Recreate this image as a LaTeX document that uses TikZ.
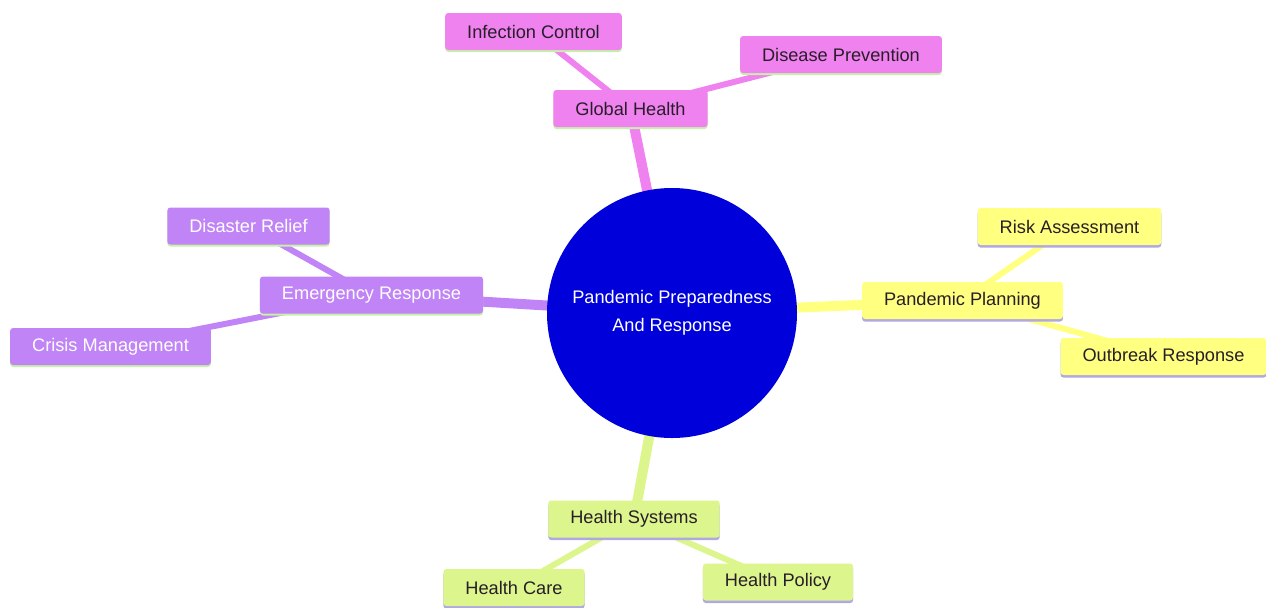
\documentclass[tikz,border=0pt]{standalone}
\usepackage{fontspec}
\setmainfont{Liberation Sans}
\usetikzlibrary{backgrounds,shadows}

\definecolor{pinkbranch}{RGB}{240,130,240}
\definecolor{purplebranch}{RGB}{192,132,246}
\definecolor{yellowbranch}{RGB}{255,255,128}
\definecolor{greenbranch}{RGB}{220,245,140}
\definecolor{corecolor}{RGB}{0,0,218}
\definecolor{greenshadow}{RGB}{200,240,170}
\definecolor{lavendershadow}{RGB}{176,168,226}
\definecolor{darktext}{RGB}{40,30,40}

\tikzset{every picture/.style={line width=0.75pt}}

\begin{document}
\begin{tikzpicture}[x=0.5pt, y=-0.5pt,
                    line join=round,
                    topic/.style={rounded corners=1.5pt, inner xsep=11pt,
                                  minimum height=18.5pt, text=darktext},
                    pinkbox/.style={topic, fill=pinkbranch,
                                    drop shadow={shadow xshift=0pt, shadow yshift=-1pt, fill=greenshadow, opacity=1}},
                    purplebox/.style={topic, fill=purplebranch, text=white,
                                      drop shadow={shadow xshift=0pt, shadow yshift=-1pt, fill=greenshadow, opacity=1}},
                    yellowbox/.style={topic, fill=yellowbranch,
                                      drop shadow={shadow xshift=0pt, shadow yshift=-1.3pt, fill=lavendershadow, opacity=1}},
                    greenbox/.style={topic, fill=greenbranch,
                                     drop shadow={shadow xshift=0pt, shadow yshift=-1.3pt, fill=lavendershadow, opacity=1}},
                    trunk/.style={line width=5pt},
                    twig/.style={line width=3pt}]
  \fontsize{9.1}{12.5}\selectfont
  \useasboundingbox (0,0) rectangle (1266,607);

  % centre
  \node[circle, fill=corecolor, minimum size=125pt, text=white, align=center,
        font=\fontsize{9.1}{14}\selectfont]
    (core) at (672,313) {Pandemic Preparedness\\And Response};

  % global health
  \node[pinkbox] (global) at (630.5,108.5) {Global Health};
  \node[pinkbox] (infection) at (533.5,31.5) {Infection Control};
  \node[pinkbox] (prevention) at (841,54.5) {Disease Prevention};

  % emergency response
  \node[purplebox] (emergency) at (371.5,295) {Emergency Response};
  \node[purplebox] (relief) at (248.5,226) {Disaster Relief};
  \node[purplebox] (crisis) at (110.5,346.5) {Crisis Management};

  % pandemic planning
  \node[yellowbox] (planning) at (962.5,300.5) {Pandemic Planning};
  \node[yellowbox] (risk) at (1069.5,226.5) {Risk Assessment};
  \node[yellowbox] (outbreak) at (1163.5,356.5) {Outbreak Response};

  % health systems
  \node[greenbox] (systems) at (634,519) {Health Systems};
  \node[greenbox] (care) at (514,587.5) {Health Care};
  \node[greenbox] (policy) at (778,582) {Health Policy};

  % branches
  \begin{scope}[on background layer]
    \draw[trunk, pinkbranch] (core.center) -- (global.center);
    \draw[twig, pinkbranch] (global.center) -- (infection.center);
    \draw[twig, pinkbranch] (global.center) -- (prevention.center);

    \draw[trunk, purplebranch] (core.center) -- (emergency.center);
    \draw[twig, purplebranch] (emergency.center) -- (relief.center);
    \draw[twig, purplebranch] (emergency.center) -- (crisis.center);

    \draw[trunk, yellowbranch] (core.center) -- (planning.center);
    \draw[twig, yellowbranch] (planning.center) -- (risk.center);
    \draw[twig, yellowbranch] (planning.center) -- (outbreak.center);

    \draw[trunk, greenbranch] (core.center) -- (systems.center);
    \draw[twig, greenbranch] (systems.center) -- (care.center);
    \draw[twig, greenbranch] (systems.center) -- (policy.center);
  \end{scope}

\end{tikzpicture}
\end{document}
